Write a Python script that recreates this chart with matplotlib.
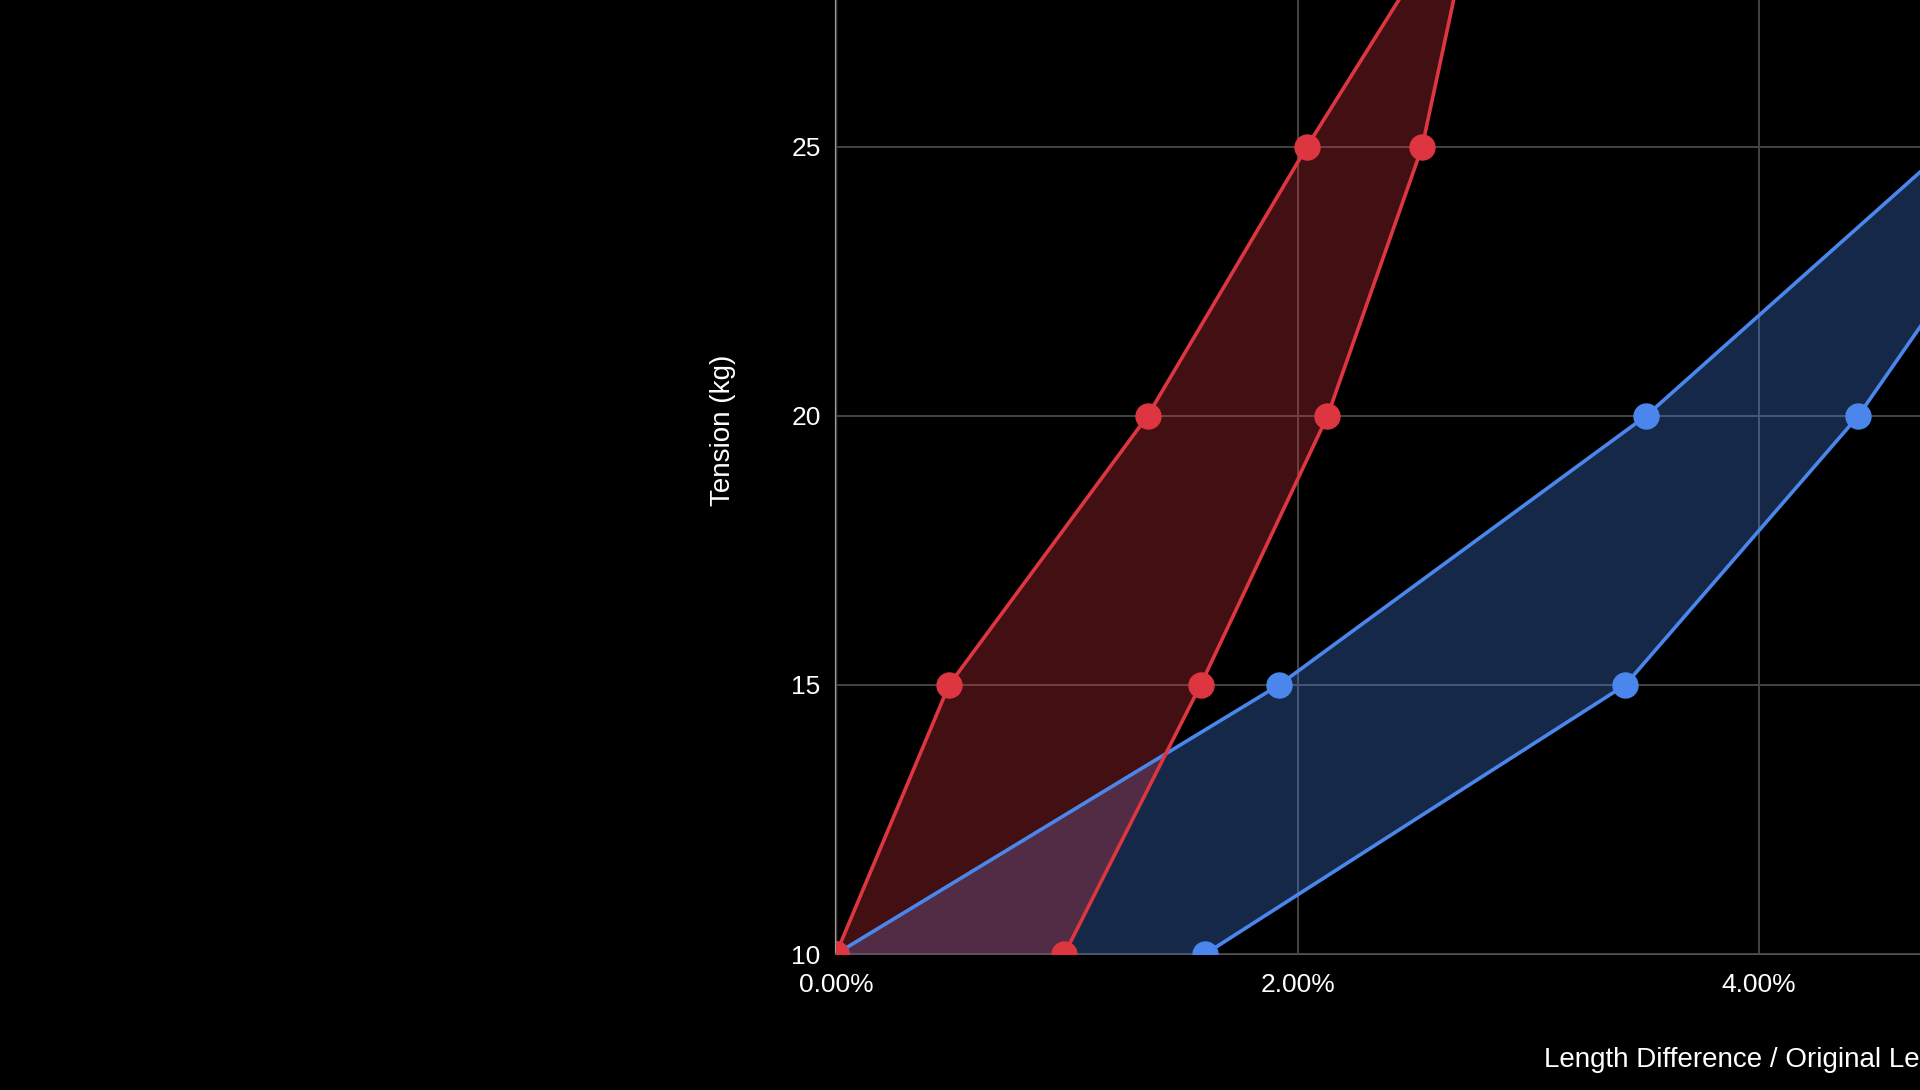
import matplotlib.pyplot as plt
import numpy as np
from matplotlib.ticker import FuncFormatter

plt.rcParams['font.family'] = ['Liberation Sans', 'DejaVu Sans']

# tension (kg) vs strain (%) for two samples, each as a lower/upper band
red_tension = [10, 15, 20, 25, 30]
red_low = [0.0, 0.49, 1.35, 2.04, 2.77]
red_high = [0.99, 1.58, 2.13, 2.54, 2.79]

blue_tension = [10, 15, 20, 25]
blue_low = [0.0, 1.92, 3.51, 4.82]
blue_high = [1.60, 3.42, 4.43, 5.24]

red = '#dd3640'
blue = '#4a86ec'

fig = plt.figure(figsize=(19.2, 10.9), dpi=100, facecolor='black')
# the chart is cropped: axes run past the right and top edges
ax = fig.add_axes([836/1920, 136/1090, 1846/1920, 1076/1090])
ax.set_facecolor('black')

# filled bands
ax.fill(np.concatenate([blue_low, blue_high[::-1]]),
        np.concatenate([blue_tension, blue_tension[::-1]]),
        color=blue, alpha=0.3, lw=0, zorder=2)
ax.fill(np.concatenate([red_low, red_high[::-1]]),
        np.concatenate([red_tension, red_tension[::-1]]),
        color=red, alpha=0.3, lw=0, zorder=3)

for xs, ys, c in [(blue_low, blue_tension, blue), (blue_high, blue_tension, blue),
                  (red_low, red_tension, red), (red_high, red_tension, red)]:
    ax.plot(xs, ys, color=c, lw=2.6, marker='o', ms=18, zorder=4)

ax.set_xlim(0, 8)
ax.set_ylim(10, 30)
# only the ticks that fall inside the visible crop
ax.set_xticks([0, 2, 4])
ax.set_yticks([10, 15, 20, 25])
ax.xaxis.set_major_formatter(FuncFormatter(lambda v, p: f"{v:.2f}%"))

ax.grid(True, color='#444444', lw=1.4, zorder=0)
for s in ['top', 'right']:
    ax.spines[s].set_visible(False)
ax.spines['left'].set_color('#9a9a9a')
ax.spines['left'].set_linewidth(1.6)
ax.spines['bottom'].set_color('#555555')
ax.spines['bottom'].set_linewidth(1.4)
ax.spines['left'].set_zorder(1)
ax.spines['bottom'].set_zorder(1)

ax.tick_params(axis='x', length=0, pad=14, labelsize=19, colors='white')
ax.tick_params(axis='y', length=0, pad=11, labelsize=19, colors='white')

ax.set_xlabel('Length Difference / Original Length', fontsize=20, color='white')
ax.xaxis.set_label_coords(0.5, -0.086)
ax.set_ylabel('Tension (kg)', fontsize=20, color='white')
ax.yaxis.set_label_coords(-0.054, 0.487)

fig.savefig('out.png', dpi=100, facecolor='black')
